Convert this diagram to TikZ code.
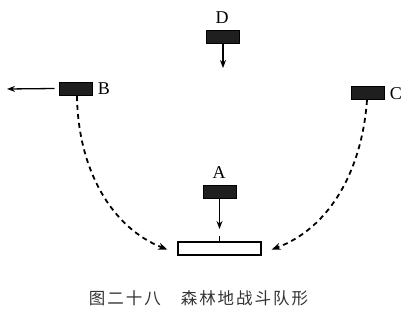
\documentclass[tikz,border=0pt]{standalone}
\usepackage{fontspec}
\setmainfont{Liberation Serif}
\newfontfamily\cjk{Noto Sans CJK SC}
\usetikzlibrary{arrows.meta}
\begin{document}
\begin{tikzpicture}[x=1pt,y=-1pt,
  unit/.style={draw=black,fill=black!88,minimum width=33pt,minimum height=13pt,inner sep=0pt,outer sep=0pt},
  lbl/.style={font=\fontsize{18}{18}\selectfont,inner sep=0pt},
  move/.style={line width=1.3pt,-{Stealth[length=8pt,width=6pt]}},
  flank/.style={line width=1.8pt,dash pattern=on 5pt off 4pt,-{Stealth[length=9pt,width=7pt]}}]
\useasboundingbox (0,0) rectangle (416,314);
% units
\node[unit] (D) at (223,36.5) {};
\node[unit] (B) at (76,88.5) {};
\node[unit] (C) at (367.5,92.5) {};
\node[unit] (A) at (220,192) {};
\node[draw=black,line width=1.4pt,minimum width=83pt,minimum height=13pt,inner sep=0pt] (T) at (219.5,248.5) {};
% labels
\node[lbl] (Dl) at (222,18) {D};
\node[lbl] (Bl) at (104,89) {B};
\node[lbl] (Cl) at (396,94) {C};
\node[lbl] (Al) at (219,173) {A};
% arrows
\coordinate (Dend) at (223,68);
\coordinate (Bend) at (7,89);
\coordinate (Aend) at (219.5,229);
\draw[move] (D.south) -- (Dend);
\draw[move] ([xshift=-5pt]B.west) -- (Bend);
\draw[move] (A.south -| Aend) -- (Aend);
\draw[line width=1.3pt] (T.north) -- ++(0,-5);
% flanking moves
\draw[flank] (77,96) .. controls (78,170) and (112,228) .. ([xshift=-10pt,yshift=-1pt]T.west);
\draw[flank] (367,100) .. controls (362,170) and (330,228) .. ([xshift=10pt,yshift=-1pt]T.east);
% caption
\node[font=\cjk\fontsize{16.5}{16.5}\selectfont,inner sep=0pt,text=black!80] (cap) at (198.5,298.5)
  {\addfontfeature{LetterSpace=12}图二十八\hspace{20pt}森林地战斗队形};
\end{tikzpicture}
\end{document}
